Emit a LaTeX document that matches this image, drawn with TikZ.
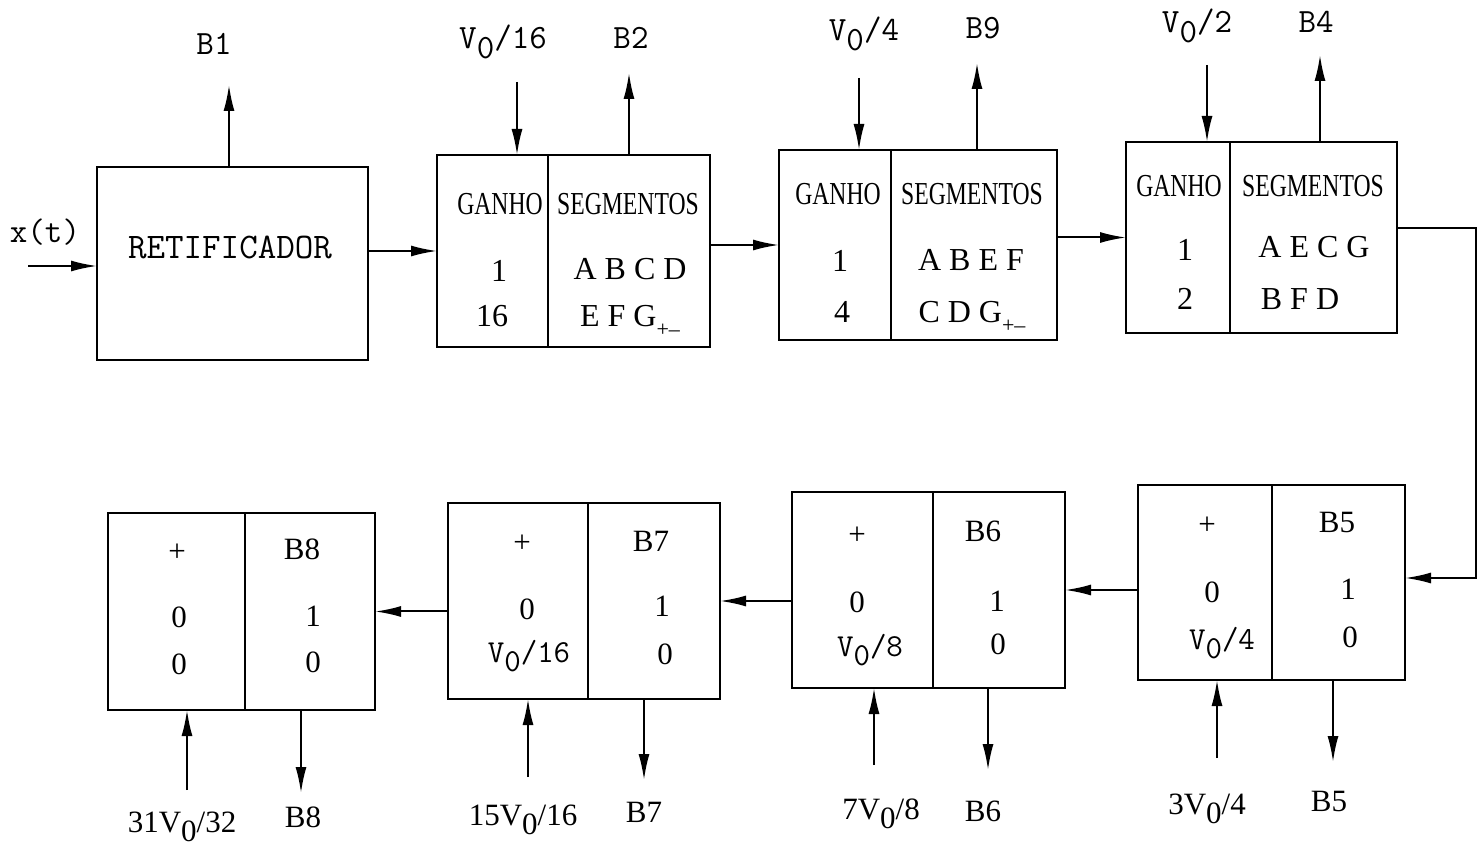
\documentclass[tikz,border=0pt]{standalone}
\usepackage{fontspec}
\usepackage{graphicx}
\setmainfont{Liberation Serif}
\usetikzlibrary{arrows.meta}
\newcommand{\Vz}{V\raisebox{-0.65ex}{0}}
\newcommand{\Gpm}{G\raisebox{-0.7ex}{\fontsize{11}{11}\selectfont +\textendash}}
\newcommand{\cond}[1]{\scalebox{0.74}[1]{#1}}
\tikzset{
  blk/.style={draw, line width=1.3pt, rectangle, inner sep=0pt, outer sep=0pt},
  arr/.style={line width=1pt, -{Latex[length=13pt,width=5.5pt]}},
  txt/.style={inner sep=0pt, anchor=mid, font=\fontsize{16}{19}\selectfont},
  btxt/.style={inner sep=0pt, anchor=mid, font=\fontsize{15.5}{18}\selectfont},
  ttl/.style={inner sep=0pt, anchor=mid, font=\ttfamily\fontsize{17}{20}\selectfont},
  btt/.style={inner sep=0pt, anchor=mid, font=\ttfamily\fontsize{16}{19}\selectfont}
}
\begin{document}
\begin{tikzpicture}[x=0.5pt, y=-0.5pt]
\useasboundingbox (0,0) rectangle (1478,865);

% ---------- boxes ----------
\node[blk, minimum width=135.5pt, minimum height=96.5pt] (r1) at (232.5,263.5) {};
\node[blk, minimum width=55.5pt, minimum height=96pt] (g2) at (492.5,251) {};
\node[blk, minimum width=81pt, minimum height=96pt] (s2) at (629,251) {};
\node[blk, minimum width=56pt, minimum height=95pt] (g3) at (835,245) {};
\node[blk, minimum width=83pt, minimum height=95pt] (s3) at (974,245) {};
\node[blk, minimum width=52pt, minimum height=95.5pt] (g4) at (1178,237.5) {};
\node[blk, minimum width=83.5pt, minimum height=95.5pt] (s4) at (1313.5,237.5) {};
\node[blk, minimum width=67pt, minimum height=97.5pt] (p5) at (1205,582.5) {};
\node[blk, minimum width=66.5pt, minimum height=97.5pt] (s5) at (1338.5,582.5) {};
\node[blk, minimum width=70.5pt, minimum height=98pt] (p6) at (862.5,590) {};
\node[blk, minimum width=66pt, minimum height=98pt] (s6) at (999,590) {};
\node[blk, minimum width=70pt, minimum height=98pt] (p7) at (518,601) {};
\node[blk, minimum width=66pt, minimum height=98pt] (s7) at (654,601) {};
\node[blk, minimum width=68.5pt, minimum height=98.5pt] (p8) at (176.5,611.5) {};
\node[blk, minimum width=65pt, minimum height=98.5pt] (s8) at (310,611.5) {};

% ---------- texts inside ----------
\node[ttl, font=\ttfamily\fontsize{18}{20}\selectfont] (tr1) at (230,254) {RETIFICADOR};
\node[txt] (tg2a) at (500,210) {\cond{GANHO}};
\node[txt] (ts2a) at (628,210) {\cond{SEGMENTOS}};
\node[txt] (tg2b) at (499,277) {1};
\node[txt] (ts2b) at (630,275) {A B C D};
\node[txt] (tg2c) at (492,322) {16};
\node[txt] (ts2c) at (630,322) {E F \Gpm};
\node[txt] (tg3a) at (838,200) {\cond{GANHO}};
\node[txt] (ts3a) at (972,200) {\cond{SEGMENTOS}};
\node[txt] (tg3b) at (840,267) {1};
\node[txt] (ts3b) at (971,266) {A B E F};
\node[txt] (tg3c) at (842,318) {4};
\node[txt] (ts3c) at (972,318) {C D \Gpm};
\node[txt] (tg4a) at (1179,192) {\cond{GANHO}};
\node[txt] (ts4a) at (1313,192) {\cond{SEGMENTOS}};
\node[txt] (tg4b) at (1185,256) {1};
\node[txt] (ts4b) at (1314,253) {A E C G};
\node[txt] (tg4c) at (1185,305) {2};
\node[txt] (ts4c) at (1300,305) {B F D};

\node[btxt] (tp5a) at (1207,530) {+};
\node[btxt] (ts5a) at (1337,528) {B5};
\node[btxt] (tp5b) at (1212,598) {0};
\node[btxt] (ts5b) at (1348,595) {1};
\node[btt] (tp5c) at (1222,645) {\Vz/4};
\node[btxt] (ts5c) at (1350,643) {0};
\node[btxt] (tp6a) at (857,540) {+};
\node[btxt] (ts6a) at (983,537) {B6};
\node[btxt] (tp6b) at (857,608) {0};
\node[btxt] (ts6b) at (997,607) {1};
\node[btt] (tp6c) at (870,652) {\Vz/8};
\node[btxt] (ts6c) at (998,650) {0};
\node[btxt] (tp7a) at (522,548) {+};
\node[btxt] (ts7a) at (651,547) {B7};
\node[btxt] (tp7b) at (527,615) {0};
\node[btxt] (ts7b) at (662,612) {1};
\node[btt] (tp7c) at (529,658) {\Vz/16};
\node[btxt] (ts7c) at (665,660) {0};
\node[btxt] (tp8a) at (177,557) {+};
\node[btxt] (ts8a) at (302,555) {B8};
\node[btxt] (tp8b) at (179,623) {0};
\node[btxt] (ts8b) at (313,622) {1};
\node[btxt] (tp8c) at (179,670) {0};
\node[btxt] (ts8c) at (313,668) {0};

% ---------- free ends ----------
\coordinate (xin) at (28,266);
\coordinate (b1) at (229,85);
\coordinate (v2) at (517,82);
\coordinate (b2) at (629,73);
\coordinate (v3) at (859,78);
\coordinate (b3) at (977,63);
\coordinate (v4) at (1207,65);
\coordinate (b4) at (1320,55);
\coordinate (cr1) at (1476,228);
\coordinate (cr2) at (1476,578);
\coordinate (i5) at (1217,758);
\coordinate (o5) at (1333,762);
\coordinate (i6) at (874,765);
\coordinate (o6) at (988,770);
\coordinate (i7) at (528,777);
\coordinate (o7) at (644,780);
\coordinate (i8) at (187,790);
\coordinate (o8) at (301,793);

% ---------- labels outside ----------
\node[ttl] (lx) at (45,238) {x(t)};
\node[ttl] (lb1) at (214,50) {B1};
\node[ttl] (lv2) at (503,44) {\Vz/16};
\node[ttl] (lb2) at (631,44) {B2};
\node[ttl] (lv3) at (864,36) {\Vz/4};
\node[ttl] (lb3) at (983,34) {B9};
\node[ttl] (lv4) at (1197,28) {\Vz/2};
\node[ttl] (lb4) at (1316,28) {B4};
\node[btxt] (li5) at (1207,810) {3\Vz/4};
\node[btxt] (lo5) at (1329,807) {B5};
\node[btxt] (li6) at (881,815) {7\Vz/8};
\node[btxt] (lo6) at (983,817) {B6};
\node[btxt] (li7) at (523,821) {15\Vz/16};
\node[btxt] (lo7) at (644,818) {B7};
\node[btxt] (li8) at (182,828) {31\Vz/32};
\node[btxt] (lo8) at (303,823) {B8};

% ---------- connectors ----------
\draw[arr] (xin) -- (xin -| r1.west);
\draw[arr] (b1 |- r1.north) -- (b1);
\draw[arr] (r1.east |- g2.west) -- (g2.west);
\draw[arr] (v2) -- (v2 |- g2.north);
\draw[arr] (b2 |- s2.north) -- (b2);
\draw[arr] (s2.east |- g3.west) -- (g3.west);
\draw[arr] (v3) -- (v3 |- g3.north);
\draw[arr] (b3 |- s3.north) -- (b3);
\draw[arr] (s3.east |- g4.west) -- (g4.west);
\draw[arr] (v4) -- (v4 |- g4.north);
\draw[arr] (b4 |- s4.north) -- (b4);
\draw[arr] (s4.east |- cr1) -- (cr1) -- (cr2) -- (s5.east |- cr2);
\draw[arr] (p5.west |- s6.east) -- (s6.east);
\draw[arr] (p6.west |- s7.east) -- (s7.east);
\draw[arr] (p7.west |- s8.east) -- (s8.east);
\draw[arr] (i5) -- (i5 |- p5.south);
\draw[arr] (o5 |- s5.south) -- (o5);
\draw[arr] (i6) -- (i6 |- p6.south);
\draw[arr] (o6 |- s6.south) -- (o6);
\draw[arr] (i7) -- (i7 |- p7.south);
\draw[arr] (o7 |- s7.south) -- (o7);
\draw[arr] (i8) -- (i8 |- p8.south);
\draw[arr] (o8 |- s8.south) -- (o8);
\end{tikzpicture}
\end{document}
